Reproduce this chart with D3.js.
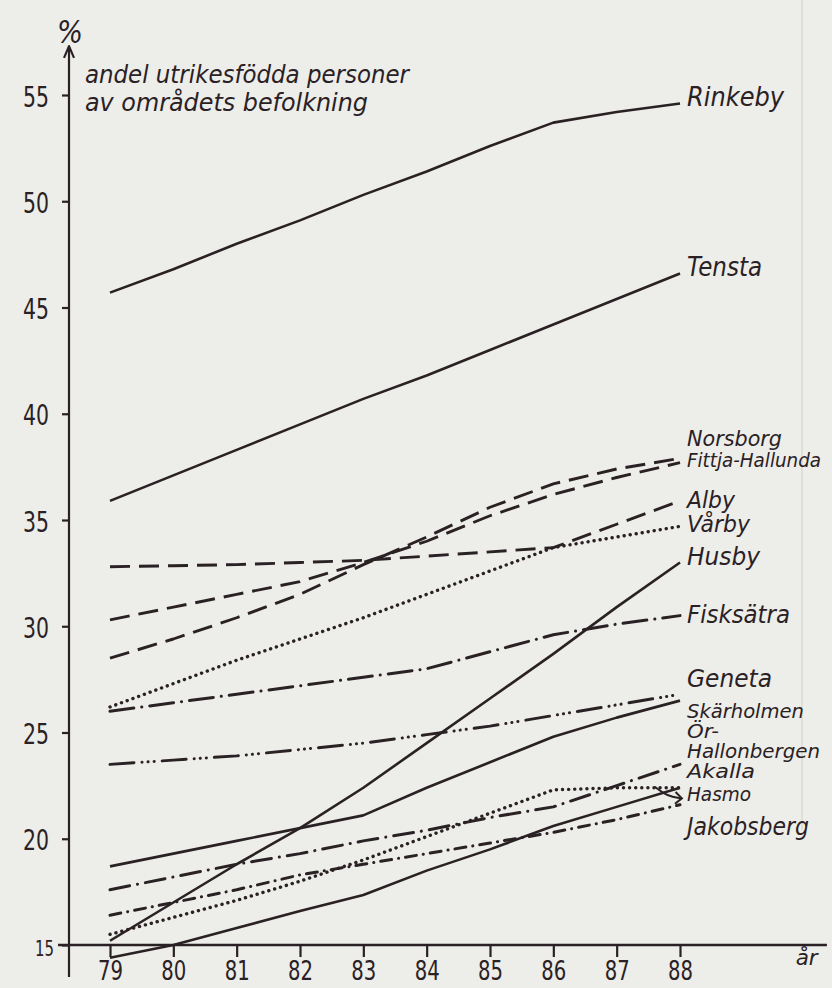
<!DOCTYPE html>
<html>
<head>
<meta charset="utf-8">
<script src="https://cdn.jsdelivr.net/npm/d3@7/dist/d3.min.js"></script>
<style>
  html, body { margin: 0; padding: 0; background: #ededea; }
  svg { display: block; }
</style>
</head>
<body>
<div id="chart"></div>
<script>
// Andel utrikesfödda personer av områdets befolkning, 1979–1988 (%)
const years = [79, 80, 81, 82, 83, 84, 85, 86, 87, 88];
const yTicks = [15, 20, 25, 30, 35, 40, 45, 50, 55];

const rinkeby        = [45.7, 46.8, 48.0, 49.1, 50.3, 51.4, 52.6, 53.7, 54.2, 54.6];
const tensta         = [35.9, 37.1, 38.3, 39.5, 40.7, 41.8, 43.0, 44.2, 45.4, 46.6];
const norsborg       = [28.5, 29.4, 30.4, 31.5, 32.9, 34.2, 35.6, 36.7, 37.4, 37.9];
const fittjaHallunda = [30.3, 30.9, 31.5, 32.1, 33.0, 34.0, 35.2, 36.2, 37.0, 37.7];
const alby           = [32.8, 32.85, 32.9, 33.0, 33.1, 33.3, 33.5, 33.7, 34.8, 35.9];
const varby          = [26.2, 27.3, 28.4, 29.4, 30.4, 31.5, 32.6, 33.7, 34.2, 34.7];
const husby          = [15.2, 17.0, 18.8, 20.5, 22.4, 24.5, 26.6, 28.7, 30.9, 33.0];
const fisksatra      = [26.0, 26.4, 26.8, 27.2, 27.6, 28.0, 28.8, 29.6, 30.1, 30.5];
const geneta         = [23.5, 23.7, 23.9, 24.2, 24.5, 24.9, 25.3, 25.8, 26.3, 26.8];
const skarholmen     = [18.7, 19.3, 19.9, 20.5, 21.1, 22.4, 23.6, 24.8, 25.7, 26.5];
const orHallonbergen = [17.6, 18.2, 18.8, 19.3, 19.9, 20.4, 21.0, 21.5, 22.5, 23.5];
const akalla         = [15.5, 16.3, 17.1, 18.0, 19.0, 20.1, 21.2, 22.3, 22.4, 22.4];
const hasmo          = [14.4, 15.0, 15.8, 16.6, 17.35, 18.5, 19.5, 20.6, 21.5, 22.4];
const jakobsberg     = [16.4, 17.0, 17.6, 18.3, 18.8, 19.3, 19.8, 20.3, 20.9, 21.6];

// Area names written at the right-hand end, and the level (in %) of each name's baseline
const labelNames  = ["Rinkeby", "Tensta", "Norsborg", "Fittja-Hallunda", "Alby", "Vårby", "Husby",
                     "Fisksätra", "Geneta", "Skärholmen", "Ör-", "Hallonbergen", "Akalla", "Hasmo", "Jakobsberg"];
const labelLevels = [54.5, 46.5, 38.5, 37.5, 35.55, 34.45, 32.9, 30.15, 27.15, 25.7, 24.75, 23.8, 22.85, 21.8, 20.2];

const titleLines = ["andel utrikesfödda personer", "av områdets befolkning"];

// ---- styling ----
const INK = "#2a2124";
const PAPER = "#ededea";
const W = 832, H = 988;
const x = d3.scaleLinear().domain([79, 88]).range([110, 680]);
const y = d3.scaleLinear().domain([15, 55]).range([945, 95]);

const styles = {
  solid:       { dash: null, width: 2.6, cap: "butt" },
  longDash:    { dash: "20,9", width: 2.9, cap: "butt" },
  dotted:      { dash: "0.1,6", width: 3.4, cap: "round" },
  dashDot:     { dash: "20,8,0.1,8", width: 3, cap: "round" },
  longDashDot: { dash: "24,8,0.1,8", width: 3, cap: "round" },
  dashDotDot:  { dash: "24,8,0.1,6,0.1,6,0.1,8", width: 3, cap: "round" },
  shortDashDot:{ dash: "11,7,0.1,7", width: 3, cap: "round" }
};

const series = [
  { values: rinkeby, style: "solid" },
  { values: tensta, style: "solid" },
  { values: norsborg, style: "longDash" },
  { values: fittjaHallunda, style: "longDash" },
  { values: alby, style: "longDash" },
  { values: varby, style: "dotted" },
  { values: husby, style: "solid" },
  { values: fisksatra, style: "longDashDot" },
  { values: geneta, style: "dashDotDot" },
  { values: skarholmen, style: "solid" },
  { values: orHallonbergen, style: "dashDot" },
  { values: akalla, style: "dotted" },
  { values: hasmo, style: "solid" },
  { values: jakobsberg, style: "shortDashDot" }
];

const labelWidths = [97, 75, 95, 134, 48, 63, 73, 103, 85, 117, 32, 133, 68, 64, 122];
const labelSizes  = [26, 26, 21, 19, 23, 23, 25, 25, 24, 20, 19, 20, 20, 20, 24];

const svg = d3.select("#chart").append("svg")
  .attr("width", W).attr("height", H)
  .attr("viewBox", `0 0 ${W} ${H}`);

svg.append("rect").attr("width", W).attr("height", H).attr("fill", PAPER);

// faint frame line showing through from the reverse of the sheet
svg.append("line")
  .attr("x1", 802).attr("x2", 802).attr("y1", 0).attr("y2", 830)
  .attr("stroke", "#dadad5").attr("stroke-width", 1.5);

const handFont = "'DejaVu Sans', 'Liberation Sans', sans-serif";

// ---- y axis ----
const axisX = x(79) - 41;
const yAxis = d3.axisLeft(y).tickValues(yTicks).tickSize(7).tickFormat(d => d);
const gy = svg.append("g").attr("transform", `translate(${axisX},0)`).call(yAxis);
gy.select(".domain").remove();
gy.selectAll(".tick line").attr("stroke", INK).attr("stroke-width", 2.2);
gy.selectAll(".tick text")
  .attr("fill", INK)
  .attr("font-family", handFont)
  .attr("font-size", 28)
  .attr("x", -20).attr("dy", 0).attr("y", 11)
  .attr("textLength", 26)
  .attr("lengthAdjust", "spacingAndGlyphs");
gy.selectAll(".tick text").filter(d => d === 15)
  .attr("font-size", 22).attr("x", -15).attr("y", 10).attr("textLength", 19);

svg.append("line")
  .attr("x1", axisX).attr("x2", axisX)
  .attr("y1", y(13.5)).attr("y2", y(57.25))
  .attr("stroke", INK).attr("stroke-width", 2.2);
// arrow head on the value axis
svg.append("path")
  .attr("d", d3.line()([[axisX - 5, y(56.75)], [axisX, y(57.3)], [axisX + 5, y(56.75)]]))
  .attr("fill", "none").attr("stroke", INK).attr("stroke-width", 2.2)
  .attr("stroke-linejoin", "round");

svg.append("text")
  .attr("x", axisX - 12).attr("y", y(55) - 52)
  .attr("font-family", handFont).attr("font-size", 32)
  .attr("font-style", "italic")
  .attr("fill", INK)
  .attr("textLength", 26).attr("lengthAdjust", "spacingAndGlyphs")
  .text("%");

// ---- x axis ----
const xAxis = d3.axisBottom(x).tickValues(years).tickSize(12).tickFormat(d => d);
const gx = svg.append("g").attr("transform", `translate(0,${y(15)})`).call(xAxis);
gx.select(".domain").remove();
gx.selectAll(".tick line").attr("stroke", INK).attr("stroke-width", 2.2);
gx.selectAll(".tick text")
  .attr("fill", INK)
  .attr("font-family", handFont)
  .attr("font-size", 27)
  .attr("y", 35).attr("dy", 0)
  .attr("textLength", 25).attr("lengthAdjust", "spacingAndGlyphs");

svg.append("line")
  .attr("x1", x(78.18)).attr("x2", x(90.32))
  .attr("y1", y(15)).attr("y2", y(15))
  .attr("stroke", INK).attr("stroke-width", 2.4);

svg.append("text")
  .attr("x", x(90.0)).attr("y", y(15) + 20)
  .attr("font-family", handFont).attr("font-size", 22).attr("font-style", "italic")
  .attr("fill", INK)
  .attr("text-anchor", "middle")
  .attr("textLength", 22).attr("lengthAdjust", "spacingAndGlyphs")
  .text("år");

// ---- title ----
svg.append("g").selectAll("text").data(titleLines).join("text")
  .attr("x", axisX + 16)
  .attr("y", (d, i) => y(55) - 12 + i * 28)
  .attr("font-family", handFont).attr("font-size", 25).attr("font-style", "italic")
  .attr("fill", INK)
  .attr("textLength", (d, i) => i === 0 ? 324 : 283)
  .attr("lengthAdjust", "spacingAndGlyphs")
  .text(d => d);

// ---- lines ----
const line = d3.line().x((d, i) => x(years[i])).y(d => y(d));
svg.append("g").selectAll("path").data(series).join("path")
  .attr("d", d => line(d.values))
  .attr("fill", "none")
  .attr("stroke", INK)
  .attr("stroke-width", d => styles[d.style].width)
  .attr("stroke-dasharray", d => styles[d.style].dash)
  .attr("stroke-linecap", d => styles[d.style].cap)
  .attr("stroke-linejoin", "round");

// small arrow pointing from the Hasmo curve to its name
svg.append("path")
  .attr("d", d3.line().curve(d3.curveBasis)([[x(87.6), y(22.45)], [x(87.8), y(22.0)], [x(88.02), y(21.9)]]))
  .attr("fill", "none").attr("stroke", INK).attr("stroke-width", 2);
svg.append("path")
  .attr("d", d3.line()([[x(87.93), y(22.2)], [x(88.03), y(21.9)], [x(87.92), y(21.65)]]))
  .attr("fill", "none").attr("stroke", INK).attr("stroke-width", 2);

// ---- area names ----
svg.append("g").selectAll("text").data(labelNames).join("text")
  .attr("x", x(88) + 7)
  .attr("y", (d, i) => y(labelLevels[i]))
  .attr("font-family", handFont)
  .attr("font-size", (d, i) => labelSizes[i])
  .attr("font-style", "italic")
  .attr("fill", INK)
  .attr("textLength", (d, i) => labelWidths[i])
  .attr("lengthAdjust", "spacingAndGlyphs")
  .text(d => d);
</script>
</body>
</html>
